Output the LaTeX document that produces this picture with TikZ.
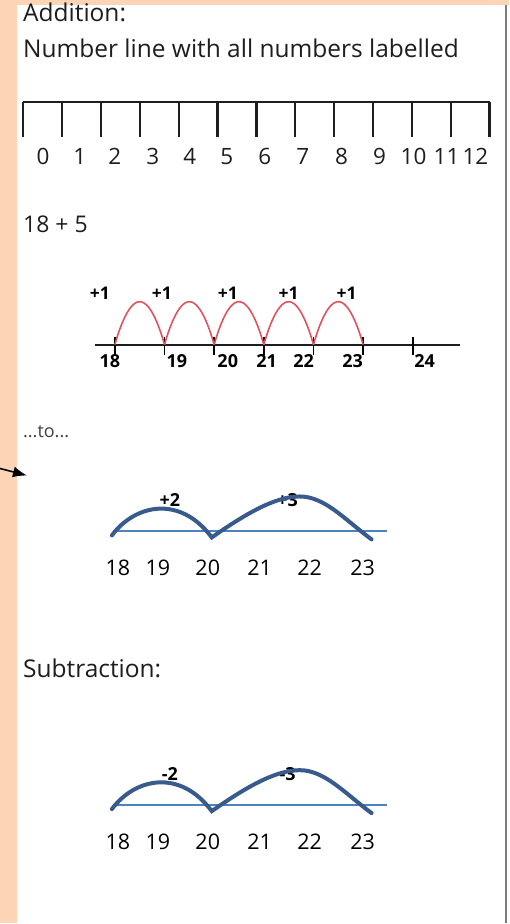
\documentclass[tikz,border=0pt]{standalone}
\usepackage{fontspec}
\setmainfont{Open Sans}
\usetikzlibrary{arrows.meta,calc}
\definecolor{peach}{RGB}{251,213,181}
\definecolor{edge}{RGB}{125,125,125}
\definecolor{ink}{RGB}{30,30,30}
\definecolor{hopred}{RGB}{222,84,96}
\definecolor{hopblue}{RGB}{56,90,140}
\definecolor{lineblue}{RGB}{79,129,189}
\tikzset{
  heading/.style={anchor=base west, inner sep=0pt, text=ink, font=\fontsize{24.5}{26}\selectfont},
  numlbl/.style={anchor=base, inner sep=0pt, text=ink, font=\fontsize{22.5}{24}\selectfont},
  ruler/.style={draw=ink, line width=2.2pt},
  tickmark/.style={draw=black, line width=1.8pt},
  redhop/.style={draw=hopred, line width=1.6pt},
  redlbl/.style={anchor=base, inner sep=0pt, font=\bfseries\fontsize{18}{20}\selectfont},
  steplbl/.style={anchor=base, inner sep=0pt, font=\bfseries\fontsize{17.5}{19}\selectfont},
  blueline/.style={draw=lineblue, line width=2pt},
  bluehop/.style={draw=hopblue, line width=4pt, line cap=round},
  hoplbl/.style={anchor=base, inner sep=0pt, font=\bfseries\fontsize{18}{20}\selectfont},
  bluelbl/.style={anchor=base, inner sep=0pt, text=black, font=\fontsize{21.5}{23}\selectfont},
  pointer/.style={draw=black, line width=1.6pt, -{Latex[length=14pt,width=11pt]}}
}
\begin{document}
\begin{tikzpicture}[x=1pt, y=1pt]
  % page frame
  \fill[peach] (0,0) rectangle (510,-924);
  \fill[white] (17,-5) rectangle (510,-924);
  \draw[edge, line width=2pt] (506.5,-5) -- (506.5,-924);
  \useasboundingbox (0,0) rectangle (510,-924);

  % addition headings
  \node[heading] (addh) at (23,-22) {Addition:};
  \node[heading] (allh) at (23,-58) {Number line with all numbers labelled};

  % number line 0 to 12
  \foreach \i in {0,...,12} \coordinate (t\i) at ({23.3+38.9*\i},-102);
  \draw[ruler] (t0) -- (t12);
  \foreach \i in {0,...,12} \draw[ruler] (t\i) -- ++(0,-35);
  \foreach \n/\x in {0/43,1/80,2/115,3/153,4/190,5/227,6/265,7/303,8/342,9/380,10/414,11/447,12/476}
    \node[numlbl] (n\n) at (\x,-165) {\n};

  % 18 + 5 in single hops
  \node[heading, font=\fontsize{23}{25}\selectfont] (sumh) at (23,-233) {18 + 5};
  \coordinate (rstart) at (95,-345);
  \coordinate (rend) at (460,-345);
  \draw[ruler, line width=2pt] (rstart) -- (rend);
  \foreach \i in {0,...,6} \coordinate (r\i) at ({115+49.7*\i},-345);
  \foreach \i in {0,...,6} \draw[tickmark] ($(r\i)+(0,8)$) -- ($(r\i)+(0,-10)$);
  \foreach \i in {0,...,4}{
    \pgfmathtruncatemacro\j{\i+1}
    \draw[redhop] (r\i) parabola bend ($(r\i)!0.5!(r\j)+(0,43)$) (r\j);
  }
  \foreach \x [count=\k] in {100,162,228,289,347} \node[steplbl] (p\k) at (\x,-300) {+1};
  \foreach \n/\x in {18/110,19/177,20/228,21/267,22/304,23/353,24/425}
    \node[redlbl] (rl\n) at (\x,-368) {\n};

  % ...to...
  \node[heading, text=ink!85, font=\fontsize{18}{20}\selectfont] (toh) at (23,-438) {...to...};
  \coordinate (atail) at (0,-469);
  \coordinate (atip) at (27,-476);
  \draw[pointer] (atail) -- (atip);

  % jumps in two steps, adding then subtracting
  \foreach \dy/\sa/\sb/\nm in {0/+2/+3/a,274/-2/-3/s}{
    \begin{scope}[yshift=-\dy pt]
      \coordinate (\nm L) at (113,-532);
      \coordinate (\nm R) at (387,-532);
      \coordinate (\nm18) at (112,-536);
      \coordinate (\nm20) at (212,-538);
      \coordinate (\nm23) at (372,-540);
      \draw[blueline] (\nm L) -- (\nm R);
      \node[hoplbl] (\nm j1) at (170,-507) {\sa};
      \node[hoplbl] (\nm j2) at (288,-507) {\sb};
      \draw[bluehop] (\nm18) .. controls (135,-505) and (180,-495) .. (\nm20)
        .. controls (245,-515) and (275,-497) .. (300,-497)
        .. controls (325,-497) and (345,-520) .. (\nm23);
      \foreach \n/\x in {18/118,19/158,20/208,21/260,22/310,23/363}
        \node[bluelbl] (\nm n\n) at (\x,-576) {\n};
    \end{scope}
  }
  \node[heading] (subh) at (23,-678) {Subtraction:};
\end{tikzpicture}
\end{document}
